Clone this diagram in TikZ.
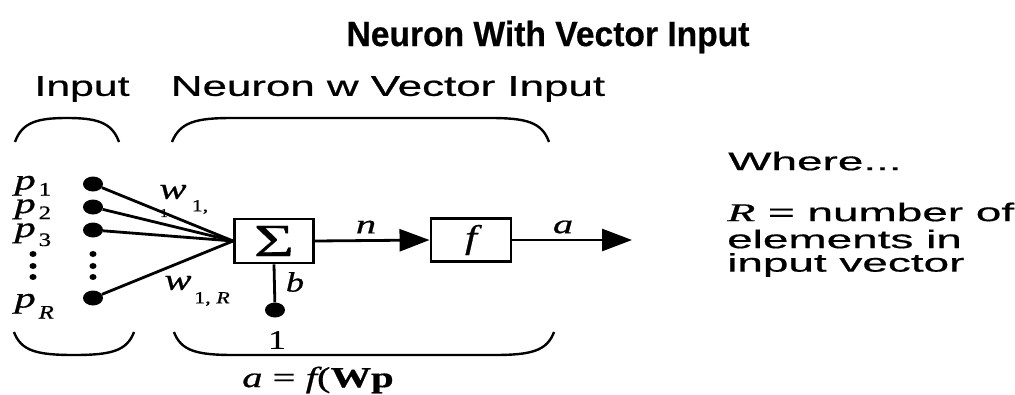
\documentclass[tikz,border=0pt]{standalone}
\usepackage{fontspec}
\setmainfont{Liberation Serif}[FakeBold=0.6]
\setsansfont{Liberation Sans}[FakeBold=0.5]
\usetikzlibrary{arrows.meta,shapes.geometric}
\newcommand{\fsz}[1]{\fontsize{#1}{#1}\selectfont}
\newcommand{\mth}[3]{\scalebox{#1}[1]{\fsz{#2}#3}}
\newcommand{\psub}[2]{\mth{1.45}{29}{\itshape p}\hspace{3pt}\raisebox{-#2pt}{\mth{1.3}{19}{#1}}}
\begin{document}
\begin{tikzpicture}[x=1pt,y=-1pt,
  wire/.style={line width=2.8pt},
  blk/.style={draw,line width=2.9pt,minimum width=79pt,minimum height=44pt,inner sep=0pt},
  dotnode/.style={ellipse,fill=black,minimum width=20pt,minimum height=15pt,inner sep=0pt},
  smalldot/.style={ellipse,fill=black,minimum width=7pt,minimum height=6pt,inner sep=0pt},
  lbl/.style={inner sep=0pt},
  brace/.style={line width=2.4pt},
  arr/.style={wire,-{Triangle[length=30pt,width=22pt]}}
]
\useasboundingbox (0,0) rectangle (1015,394);
% title and headers
\node[lbl] (title) at (548,37) {\scalebox{0.96}[1]{\sffamily\bfseries\fsz{35}Neuron With Vector Input}};
\node[lbl] (hin) at (82,89) {\scalebox{1.5}[1]{\sffamily\fsz{28.5}Input}};
\node[lbl] (hneu) at (388,89) {\scalebox{1.54}[1]{\sffamily\fsz{28.5}Neuron w Vector Input}};
% braces
\draw[brace] (15,142) .. controls (22,122) and (38,118) .. (67,118) .. controls (96,118) and (112,122) .. (119,142);
\draw[brace] (172,142) .. controls (180,122) and (196,118) .. (232,118) -- (490,118) .. controls (526,118) and (542,122) .. (549,142);
\draw[brace] (14,332) .. controls (21,351) and (37,355) .. (74,355) .. controls (111,355) and (127,351) .. (134,332);
\draw[brace] (174,332) .. controls (181,351) and (197,355) .. (234,355) -- (494,355) .. controls (531,355) and (547,351) .. (554,332);
% input labels (p1, p2, p3 stacked tightly as one label)
\node[lbl,anchor=base west] (p123) at (14.5,189.5) {\rlap{\psub{1}{6}}\rlap{\raisebox{-23.5pt}{\psub{2}{6}}}\raisebox{-47.5pt}{\psub{3}{9}}};
\node[lbl,anchor=base west] (pR) at (14.5,307.5) {\psub{\itshape R}{11}};
\node[smalldot] (l1) at (33,254) {};
\node[smalldot] (l2) at (33,266) {};
\node[smalldot] (l3) at (33,277) {};
\node[smalldot] (r1) at (93,254) {};
\node[smalldot] (r2) at (93,266) {};
\node[smalldot] (r3) at (93,277) {};
% input dots
\node[dotnode] (d1) at (93,184) {};
\node[dotnode] (d2) at (93,207) {};
\node[dotnode] (d3) at (93,230) {};
\node[dotnode] (dR) at (93,298) {};
% blocks
\node[blk] (sum) at (274,241) {\mth{1.5}{46}{Σ}};
\node[blk,minimum width=80pt,minimum height=43pt] (fbox) at (471,240) {\mth{1.3}{33}{\itshape f}};
\node[dotnode] (bias) at (275,310) {};
\coordinate (out) at (632,240);
% wires
\draw[wire] (d1) -- (sum.west);
\draw[wire] (d2) -- (sum.west);
\draw[wire] (d3) -- (sum.west);
\draw[wire] (dR) -- (sum.west);
\draw[wire] (sum.south) -- (bias);
\draw[arr] (sum.east) -- (fbox.west);
\draw[arr] (fbox.east) -- (out);
% weight labels
\node[lbl] (w1) at (173,192) {\mth{1.35}{30}{\itshape w}};
\node[lbl] (w1s) at (200,207) {\mth{1.3}{17}{1,}};
\node[lbl] (w1t) at (164,213) {\mth{1.3}{12}{1}};
\node[lbl] (wR) at (178,283) {\mth{1.35}{30}{\itshape w}};
\node[lbl] (wRs) at (212,299) {\mth{1.3}{17}{1, \itshape R}};
\node[lbl] (nl) at (366,227) {\mth{1.5}{27}{\itshape n}};
\node[lbl] (al) at (563,227) {\mth{1.5}{27}{\itshape a}};
\node[lbl] (bl) at (295,282) {\mth{1.3}{28}{\itshape b}};
\node[lbl] (one) at (277,340) {\mth{1.3}{27}{1}};
\node[lbl] (eq) at (318,380) {\mth{1.4}{29}{\itshape a\upshape\ =\ \itshape f\upshape(\bfseries Wp}};
% right text
\node[lbl,anchor=west] (where) at (728,161) {\scalebox{1.8}[1]{\sffamily\fsz{25.5}Where...}};
\node[lbl,anchor=west] (t1) at (727,212) {\scalebox{1.8}[1]{\fsz{25.5}\itshape R\upshape\sffamily\ = number of}};
\node[lbl,anchor=west] (t2) at (727,239) {\scalebox{1.8}[1]{\sffamily\fsz{25.5}elements in}};
\node[lbl,anchor=west] (t3) at (727,265) {\scalebox{1.8}[1]{\sffamily\fsz{25.5}input vector}};
\end{tikzpicture}
\end{document}
